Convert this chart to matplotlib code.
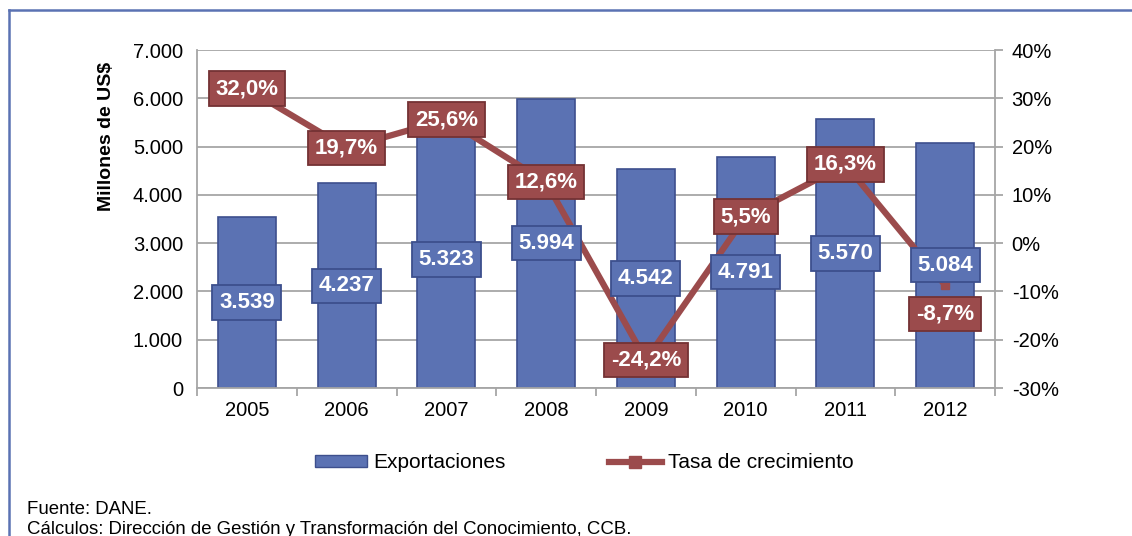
import matplotlib.pyplot as plt
from matplotlib.lines import Line2D
from matplotlib.ticker import FuncFormatter

plt.rcParams['font.family'] = ['Liberation Sans', 'DejaVu Sans']

years = ['2005', '2006', '2007', '2008', '2009', '2010', '2011', '2012']
exportaciones = [3539, 4237, 5323, 5994, 4542, 4791, 5570, 5084]
crecimiento = [32.0, 19.7, 25.6, 12.6, -24.2, 5.5, 16.3, -8.7]

bar_color = '#5b72b3'
bar_edge = '#3d4f8d'
line_color = '#9b4b4c'
line_edge = '#743234'
grid_color = '#a6a6a6'

# the 2012 rate label was pushed down in the original so it does not hit the bar label
rate_label_shift = {7: -21}


def miles(v, pos=None):
   return '{:,.0f}'.format(v).replace(',', '.')


def pct(v, pos=None):
   return '{:.0f}%'.format(v)


fig = plt.figure(figsize=(11.32, 5.36), dpi=100)
ax = fig.add_axes([197 / 1132, 1 - 388 / 536, 798 / 1132, 338 / 536])
ax2 = ax.twinx()

x = list(range(len(years)))
ax.bar(x, exportaciones, width=0.58, color=bar_color, edgecolor=bar_edge, linewidth=1.2, zorder=2)
ax.set_xlim(-0.5, len(years) - 0.5)
ax.set_ylim(0, 7000)
ax.set_yticks(range(0, 7001, 1000))
ax.yaxis.set_major_formatter(FuncFormatter(miles))
ax.grid(axis='y', color=grid_color, linewidth=1.3, zorder=0)
ax.set_axisbelow(True)
ax.tick_params(axis='y', length=0, labelsize=14.5, pad=10)
ax.set_xticks(x)
ax.set_xticklabels(years)
ax.set_xticks([i + 0.5 for i in range(-1, len(years))], minor=True)
ax.tick_params(axis='x', which='major', length=0, labelsize=14.5, pad=9)
ax.tick_params(axis='x', which='minor', length=6, width=1.3, color=grid_color)
ax.set_ylabel('Millones de US$', fontsize=14, fontweight='bold')
ax.yaxis.set_label_coords(-0.103, 0.743)
for s in ['top', 'right']:
   ax.spines[s].set_visible(False)
for s in ['left', 'bottom']:
   ax.spines[s].set_color(grid_color)
   ax.spines[s].set_linewidth(1.3)

ax2.set_zorder(ax.get_zorder() + 1)
ax2.patch.set_visible(False)
ax2.plot(x, crecimiento, color=line_color, linewidth=4.5, marker='s', markersize=6, zorder=3)
ax2.set_ylim(-30, 40)
ax2.set_yticks(range(-30, 41, 10))
ax2.yaxis.set_major_formatter(FuncFormatter(pct))
ax2.tick_params(axis='y', length=6, width=1.3, color=grid_color, labelsize=14.5, pad=6)
for s in ['top', 'left', 'bottom']:
   ax2.spines[s].set_visible(False)
ax2.spines['right'].set_color(grid_color)
ax2.spines['right'].set_linewidth(1.3)

# bar value labels go on ax2 (using ax's data coords) so they sit above the line
for i, v in enumerate(exportaciones):
   ax2.text(i, v / 2, miles(v), transform=ax.transData, ha='center', va='center', color='white',
            fontsize=16, fontweight='bold', zorder=6,
            bbox=dict(boxstyle='square,pad=0.3', facecolor=bar_color, edgecolor=bar_edge, linewidth=1.3))

for i, v in enumerate(crecimiento):
   ax2.annotate('{:.1f}%'.format(v).replace('.', ','), (i, v),
                xytext=(0, rate_label_shift.get(i, 0)), textcoords='offset points',
                ha='center', va='center', color='white', fontsize=16, fontweight='bold', zorder=7,
                bbox=dict(boxstyle='square,pad=0.3', facecolor=line_color, edgecolor=line_edge, linewidth=1.3))

handles = [
   plt.Rectangle((0, 0), 1, 1, facecolor=bar_color, edgecolor=bar_edge),
   Line2D([0], [0], color=line_color, linewidth=4.5, marker='s', markersize=8),
]
fig.legend(handles, ['Exportaciones', 'Tasa de crecimiento'], loc='center',
           bbox_to_anchor=(584 / 1132, 1 - 463 / 536), ncol=2, frameon=False,
           fontsize=15, handlelength=2.5, handleheight=0.5, handletextpad=0.3,
           columnspacing=5.0)

fig.text(27 / 1132, 1 - 510 / 536, 'Fuente: DANE.', fontsize=13.4, va='center')
fig.text(27 / 1132, 1 - 529 / 536,
         'Cálculos: Dirección de Gestión y Transformación del Conocimiento, CCB.',
         fontsize=13.4, va='center')

frame = '#5b72b3'
fig.add_artist(Line2D([9 / 1132, 9 / 1132], [0, 1 - 10 / 536], color=frame, linewidth=1.8))
fig.add_artist(Line2D([9 / 1132, 1], [1 - 10 / 536, 1 - 10 / 536], color=frame, linewidth=1.8))

fig.savefig('out.png', dpi=100)
